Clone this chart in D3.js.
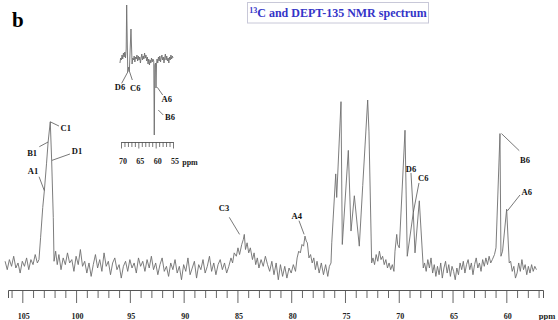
<!DOCTYPE html>
<html>
<head>
<meta charset="utf-8">
<script src="https://cdn.jsdelivr.net/npm/d3@7"></script>
<style>
  html, body { margin: 0; padding: 0; background: #fff; }
  svg { display: block; }
  text { font-family: "Liberation Serif", "Times New Roman", "DejaVu Serif", serif; font-weight: bold; }
</style>
</head>
<body>
<div id="chart"></div>
<script>
// ---------------- DATA ----------------
// Main 13C spectrum: [ppm, intensity]
const spectrum = [
  [106.6,4],[106.4,-1],[106.2,5],[106.0,1],[105.8,7],[105.6,0],[105.4,3],[105.2,-3],[105.0,4],[104.8,1],
  [104.6,6],[104.4,-1],[104.2,5],[104.0,2],[103.8,8],[103.6,3],
  [103.45,5],[103.3,18],[103.1,36],[102.95,46],[102.75,62],[102.6,75],[102.4,87],[102.27,64],[102.12,30],[102.05,4],
  [101.9,10],[101.75,2],[101.6,8],[101.4,-1],[101.2,6],[101.0,2],[100.8,9],[100.6,3],[100.4,5],[100.2,-2],
  [100.0,7],[99.8,2],[99.6,11],[99.4,1],[99.2,4],[99.0,-3],[98.8,3],[98.6,-5],[98.4,2],[98.2,8],[98.0,0],
  [97.8,5],[97.6,-2],[97.4,9],[97.2,1],[97.0,4],[96.8,-4],[96.6,3],[96.4,6],[96.2,-1],[96.0,2],[95.8,-6],
  [95.6,1],[95.4,4],[95.2,-2],[95.0,5],[94.8,0],[94.6,3],[94.4,-3],[94.2,6],[94.0,1],[93.8,4],[93.6,-2],
  [93.4,5],[93.2,0],[93.0,7],[92.8,-1],[92.6,3],[92.4,-4],[92.2,2],[92.0,6],[91.8,-2],[91.6,1],
  [91.4,-5],[91.2,3],[91.0,-1],[90.8,5],[90.6,-3],[90.4,1],[90.2,-7],[90.0,2],[89.8,-2],[89.6,6],[89.4,-4],
  [89.2,0],[89.0,4],[88.8,-6],[88.6,2],[88.4,-1],[88.2,5],[88.0,-3],[87.8,1],[87.6,7],[87.4,-2],[87.2,3],
  [87.0,-4],[86.8,2],[86.6,5],[86.4,-1],[86.2,3],[86.0,-3],[85.8,1],
  [85.6,6],[85.45,3],[85.3,9],[85.1,7],[84.95,12],[84.8,8],[84.6,14],[84.45,17],[84.36,20],[84.25,11],
  [84.1,15],[83.95,9],[83.8,12],[83.6,5],[83.45,9],[83.3,2],[83.15,6],
  [83.0,0],[82.8,5],[82.6,1],[82.4,7],[82.2,2],[82.0,-2],[81.8,4],[81.6,-4],[81.4,3],[81.2,-7],[81.0,2],
  [80.8,-5],[80.6,1],[80.4,-6],[80.2,0],[80.0,-3],[79.8,2],[79.6,-2],
  [79.45,6],[79.3,10],[79.15,9],[79.0,14],[78.85,13],[78.72,19],[78.6,16],[78.5,15],[78.35,6],[78.2,8],[78.05,3],
  [77.9,6],[77.75,-1],[77.6,4],[77.4,-3],[77.2,3],[77.0,-4],[76.8,2],[76.6,-5],[76.45,1],
  [76.3,3],[76.23,15],[75.86,56],[75.77,42],[75.37,99],[75.25,14],[74.69,70],[74.44,22],[74.13,43],
  [73.67,13],[73.35,49],[72.89,100],[72.77,81],[72.52,3],
  [72.4,6],[72.25,2],[72.1,8],[71.95,4],[71.8,10],[71.65,5],[71.5,7],[71.35,2],[71.2,5],[71.05,0],
  [70.9,3],[70.75,-1],[70.6,2],[70.45,-2],
  [70.35,10],[70.19,20],[70.1,14],[69.95,12],[69.42,82],[69.21,7],[68.65,33],[68.49,9],[68.09,40],[67.72,0],
  [67.6,3],[67.45,-2],[67.3,5],[67.15,0],[67.0,6],[66.85,-3],[66.7,2],[66.55,-5],[66.4,1],[66.25,-4],
  [66.1,3],[65.95,-6],[65.8,0],[65.65,4],[65.5,-3],[65.35,2],[65.2,-5],[65.05,1],[64.9,-2],[64.75,-7],
  [64.6,0],[64.45,-4],[64.3,3],[64.15,-1],[64.0,4],[63.85,-3],[63.7,2],[63.55,5],[63.4,-1],[63.25,3],
  [63.1,-4],[62.95,2],[62.8,6],[62.65,0],[62.5,3],[62.35,-2],[62.2,5],[62.05,1],[61.9,6],[61.75,2],
  [61.6,7],[61.45,3],[61.3,5],
  [61.1,8],[60.96,12],[60.59,80],[60.5,7],[60.35,10],[59.97,35],[59.73,3],
  [59.6,4],[59.45,-2],[59.3,1],[59.15,-6],[59.0,-3],[58.85,3],[58.7,-2],[58.55,5],[58.4,-1],[58.25,2],
  [58.1,-4],[57.95,1],[57.8,-3],[57.65,2],[57.5,-2],[57.35,1],[57.2,-1]
];

// DEPT-135 inset spectrum: [ppm, intensity]
const deptSpectrum = [
  [70.3,-2],[70.1,3],[69.9,1],[69.7,6],[69.5,2],[69.3,8],[69.1,4],[68.9,9],[68.7,3],[68.5,12],
  [68.36,56],[68.05,-11],[67.75,-6],[67.6,-10],[67.12,32],[66.8,-3],
  [66.6,3],[66.4,1],[66.2,5],[66.0,-1],[65.8,4],[65.6,2],[65.4,6],[65.2,0],[65.0,5],[64.8,1],
  [64.6,4],[64.4,-2],[64.2,3],[64.0,7],[63.8,1],[63.6,5],[63.4,2],[63.2,8],[63.0,3],[62.8,6],
  [62.6,0],[62.4,4],[62.2,-3],[62.0,2],[61.8,-4],[61.6,1],[61.4,-2],[61.2,3],[61.0,-1],[60.8,2],
  [60.55,0],[60.4,-74],[60.25,-4],[60.05,-2],[59.9,-27],[59.75,-3],
  [59.6,2],[59.4,-2],[59.2,4],[59.0,0],[58.8,5],[58.6,-1],[58.4,3],[58.2,6],[58.0,1],[57.8,4],
  [57.6,-2],[57.4,3],[57.2,7],[57.0,1],[56.8,5],[56.6,0],[56.4,3],[56.2,-2],[56.0,4],[55.8,1],
  [55.6,6],[55.4,2],[55.2,5],[55.0,3]
];

// Axis ticks
const mainMinorTicks = d3.range(57, 107);
const mainTickLabels = [105, 100, 95, 90, 85, 80, 75, 70, 65, 60];
const insetMinorTicks = d3.range(55, 71);
const insetTickLabels = [70, 65, 60, 55];

// Peak annotations: label, peak ppm, intensity
const mainPeakLabels = [
  { label: "A1", ppm: 102.95, value: 46 },
  { label: "B1", ppm: 102.6, value: 75 },
  { label: "C1", ppm: 102.4, value: 87 },
  { label: "D1", ppm: 102.27, value: 64 },
  { label: "C3", ppm: 84.8, value: 20 },
  { label: "A4", ppm: 78.8, value: 20 },
  { label: "D6", ppm: 68.65, value: 33 },
  { label: "C6", ppm: 68.65, value: 33 },
  { label: "B6", ppm: 60.59, value: 80 },
  { label: "A6", ppm: 59.9, value: 34 }
];
const insetPeakLabels = [
  { label: "D6", ppm: 68.05, value: -11 },
  { label: "C6", ppm: 67.6, value: -10 },
  { label: "A6", ppm: 59.9, value: -27 },
  { label: "B6", ppm: 60.4, value: -49 }
];

const titleText = "C and DEPT-135 NMR spectrum";
const titleSup = "13";
const panelLetter = "b";

// ---------------- LAYOUT / STYLE ----------------
const W = 558, H = 320;
const traceColor = "#6e6e6e";
const leaderColor = "#555";

// label placement offsets (line start, line end, text centre) relative to peak point
const mainLabelOffsets = {
  "A1": { a: [0, 0], b: [-5.3, -14], t: [-11.3, -19.7] },
  "B1": { a: [0, 0], b: [-8.8, 4.7], t: [-16, 10.7] },
  "C1": { a: [0, 0], b: [8.7, 4.2], t: [15.5, 5.9] },
  "D1": { a: [0, 0], b: [18.3, -6.5], t: [25.3, -9.8] },
  "C3": { a: [0, 0], b: [-10.3, -17.1], t: [-15.6, -26.4] },
  "A4": { a: [0, 0], b: [-5.1, -13.7], t: [-7.4, -18.7] },
  "D6": { a: [0, 0], b: [-2.3, -39.6], t: [-2.3, -44] },
  "C6": { a: [0, 0], b: [5.7, -29.6], t: [10, -34.5] },
  "B6": { a: [1.5, 0], b: [19.3, 17.1], t: [25, 26.4] },
  "A6": { a: [0, 0], b: [12.6, -15.9], t: [19.3, -19.2] }
};
const insetLabelOffsets = {
  "D6": { a: [0, 0], b: [-6.1, 11.3], t: [-7.8, 15.3] },
  "C6": { a: [0, 0], b: [3, 9], t: [6, 17.3] },
  "A6": { a: [1.3, -0.7], b: [6.7, 7], t: [10.7, 11] },
  "B6": { a: [4, 0], b: [9, 5], t: [15.7, 6.7] }
};

const svg = d3.select("#chart").append("svg")
  .attr("width", W).attr("height", H)
  .attr("viewBox", `0 0 ${W} ${H}`);

svg.append("rect").attr("width", W).attr("height", H).attr("fill", "#fff");

// ---------------- MAIN SPECTRUM ----------------
const x = d3.scaleLinear().domain([106.33, 56.59]).range([8, 543]);
const y = d3.scaleLinear().domain([0, 100]).range([268, 100]);

const line = d3.line().x(d => x(d[0])).y(d => y(d[1]));

svg.append("path")
  .datum(spectrum)
  .attr("d", line)
  .attr("fill", "none")
  .attr("stroke", traceColor)
  .attr("stroke-width", 0.9)
  .attr("stroke-linejoin", "round");

// main axis: minor ticks
const axisY = 290;
const minorAxis = d3.axisBottom(x)
  .tickValues(mainMinorTicks.filter(v => !mainTickLabels.includes(v)))
  .tickSize(8)
  .tickFormat("");
const gMinor = svg.append("g").attr("transform", `translate(0,${axisY})`).call(minorAxis);

const majorAxis = d3.axisBottom(x)
  .tickValues(mainTickLabels)
  .tickSize(13)
  .tickPadding(10)
  .tickFormat(d3.format("d"));
const gMajor = svg.append("g").attr("transform", `translate(0,${axisY})`).call(majorAxis);
gMajor.select(".domain").remove();

[gMinor, gMajor].forEach(g => {
  g.selectAll("line").attr("stroke", "#555").attr("stroke-width", 0.9);
  g.select(".domain").attr("stroke", "#555").attr("stroke-width", 1);
});
gMajor.selectAll("text")
  .attr("font-family", '"Liberation Serif", "Times New Roman", serif')
  .attr("font-weight", "bold")
  .attr("font-size", 8)
  .attr("fill", "#222")
  .attr("dx", 1);

svg.append("text")
  .attr("x", 547).attr("y", 319)
  .attr("text-anchor", "middle")
  .attr("font-size", 8.5)
  .attr("fill", "#222")
  .text("ppm");

// main annotations
function drawLabels(list, offsets, xs, ys, fontSize) {
  list.forEach(p => {
    const o = offsets[p.label];
    const px = xs(p.ppm), py = ys(p.value);
    svg.append("line")
      .attr("x1", px + o.a[0]).attr("y1", py + o.a[1])
      .attr("x2", px + o.b[0]).attr("y2", py + o.b[1])
      .attr("stroke", leaderColor).attr("stroke-width", 0.8);
    svg.append("text")
      .attr("x", px + o.t[0]).attr("y", py + o.t[1])
      .attr("dy", "0.35em")
      .attr("text-anchor", "middle")
      .attr("font-size", fontSize)
      .attr("fill", "#111")
      .text(p.label);
  });
}
drawLabels(mainPeakLabels, mainLabelOffsets, x, y, 8.5);

// ---------------- INSET (DEPT-135) ----------------
const xi = d3.scaleLinear().domain([70, 55]).range([121, 173]);
const yi = d3.scaleLinear().domain([0, 56]).range([61, 5]);

svg.append("path")
  .datum(deptSpectrum)
  .attr("d", d3.line().x(d => xi(d[0])).y(d => yi(d[1])))
  .attr("fill", "none")
  .attr("stroke", traceColor)
  .attr("stroke-width", 0.9)
  .attr("stroke-linejoin", "round");

const insetAxisY = 142;
const insetMinor = d3.axisBottom(xi)
  .tickValues(insetMinorTicks.filter(v => !insetTickLabels.includes(v)))
  .tickSize(5).tickSizeOuter(0)
  .tickFormat("");
const giMinor = svg.append("g").attr("transform", `translate(0,${insetAxisY})`).call(insetMinor);
const insetMajor = d3.axisBottom(xi)
  .tickValues(insetTickLabels)
  .tickSize(6.5)
  .tickPadding(10)
  .tickFormat(d3.format("d"));
const giMajor = svg.append("g").attr("transform", `translate(0,${insetAxisY})`).call(insetMajor);
giMajor.select(".domain").remove();
[giMinor, giMajor].forEach(g => {
  g.selectAll("line").attr("stroke", "#555").attr("stroke-width", 0.8);
  g.select(".domain").attr("stroke", "#555").attr("stroke-width", 0.9);
});
giMajor.selectAll("text")
  .attr("font-family", '"Liberation Serif", "Times New Roman", serif')
  .attr("font-weight", "bold")
  .attr("font-size", 8)
  .attr("fill", "#222")
  .attr("dx", 1.5);

svg.append("text")
  .attr("x", 190).attr("y", 165)
  .attr("text-anchor", "middle")
  .attr("font-size", 8)
  .attr("fill", "#222")
  .text("ppm");

drawLabels(insetPeakLabels, insetLabelOffsets, xi, yi, 8.5);

// ---------------- TITLE & PANEL LETTER ----------------
svg.append("rect")
  .attr("x", 247.5).attr("y", 2.5).attr("width", 181).attr("height", 20.5)
  .attr("fill", "#fff").attr("stroke", "#c8c8d8").attr("stroke-width", 1);

const title = svg.append("text")
  .attr("x", 338).attr("y", 17)
  .attr("text-anchor", "middle")
  .attr("font-size", 12)
  .attr("fill", "#3434c8");
title.append("tspan").attr("font-size", 8).attr("dy", -4).text(titleSup);
title.append("tspan").attr("dy", 4).text(titleText);

svg.append("text")
  .attr("x", 12).attr("y", 27)
  .attr("font-size", 21)
  .attr("fill", "#000")
  .text(panelLetter);
</script>
</body>
</html>
